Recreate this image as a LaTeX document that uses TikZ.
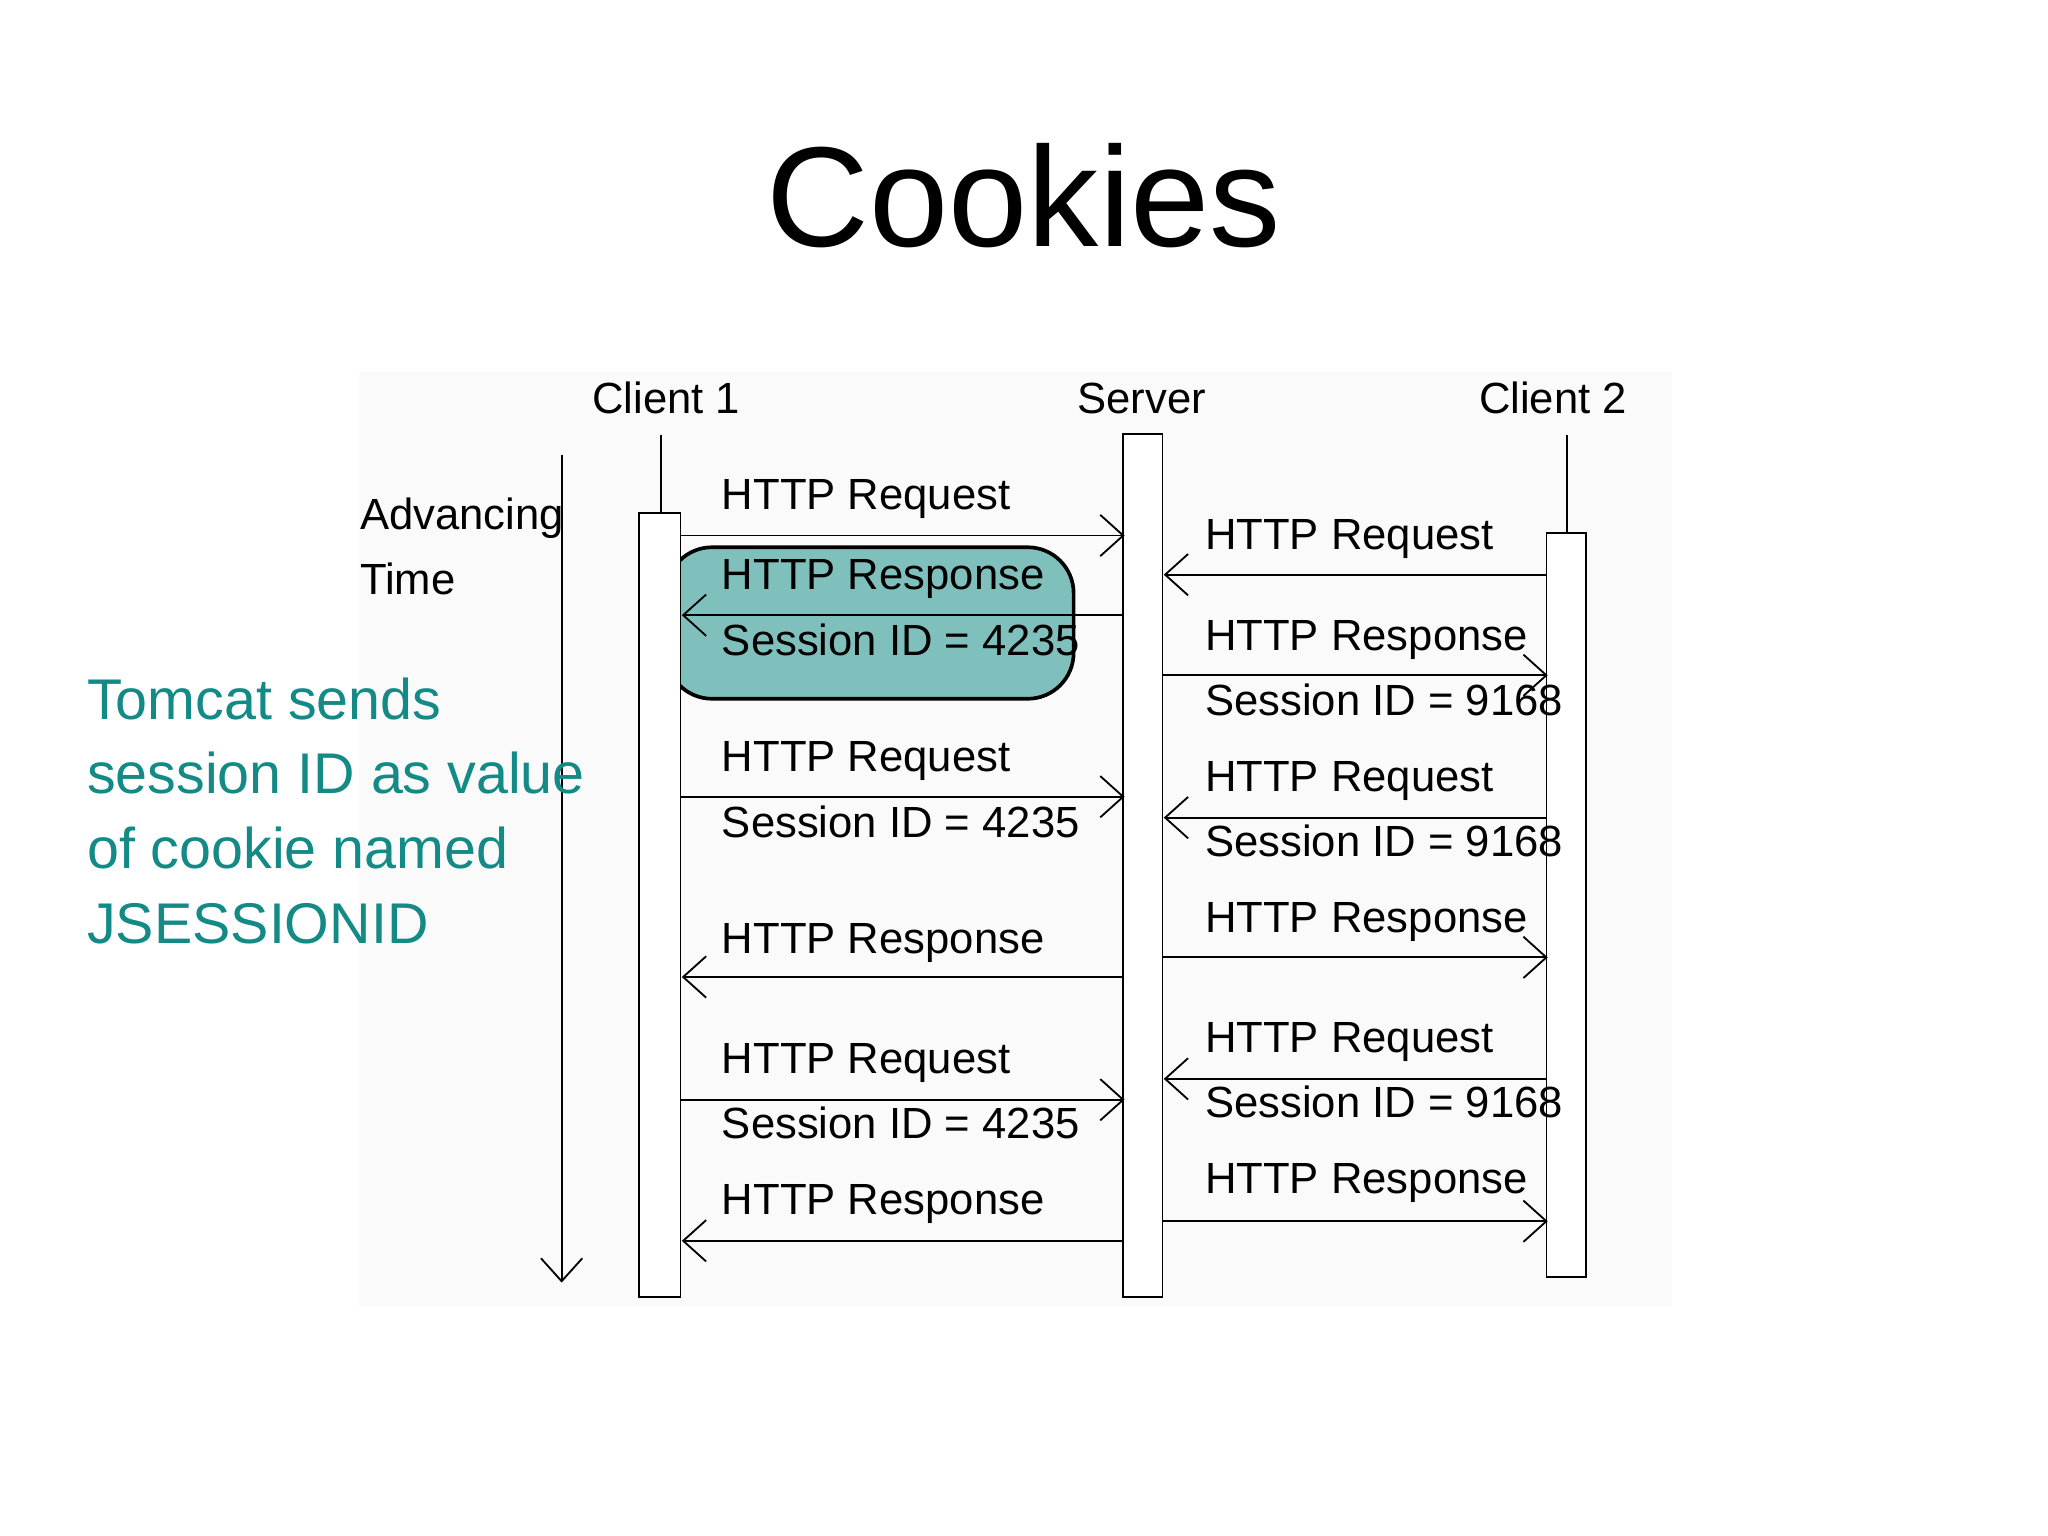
\documentclass[tikz,border=0pt]{standalone}
\usepackage{fontspec}
\setmainfont{Liberation Sans}
\usetikzlibrary{arrows.meta}
\definecolor{slidebg}{RGB}{250,250,250}
\definecolor{tealbox}{RGB}{128,192,188}
\definecolor{tealtext}{RGB}{20,138,134}
\begin{document}
\begin{tikzpicture}[
    x=0.01cm, y=-0.01cm,
    msg/.style={-{Straight Barb[length=5pt,width=9pt]}, thin, black},
    lbl/.style={anchor=west, inner sep=0pt, font=\fontsize{9.5}{11}\selectfont},
    bar/.style={draw, fill=white, thin}
]
\useasboundingbox (0,0) rectangle (1568,1176);
\fill[slidebg] (275,285) rectangle (1280,1000);

% Title
\node[font=\fontsize{31}{36}\selectfont] (title) at (784,150) {Cookies};

% Highlight
\draw[fill=tealbox, rounded corners=10pt, thick] (510,419) rectangle (822,535);

% Lifelines
\node[lbl, anchor=center] (c1) at (510,305) {Client 1};
\node[lbl, anchor=center] (srv) at (874,305) {Server};
\node[lbl, anchor=center] (c2) at (1189,305) {Client 2};
\draw (506,333) -- (506,393);
\draw (1200,333) -- (1200,408);
\draw[bar] (489,393) rectangle (521,993);
\draw[bar] (860,332) rectangle (890,993);
\draw[bar] (1184,408) rectangle (1214,978);
\coordinate (tA) at (430,348);
\coordinate (tB) at (430,982);
\draw[msg] (tA) -- (tB);
\node[lbl] (adv) at (275,397) {Advancing};
\node[lbl] (time) at (275,443) {Time};

% Client 1 <-> Server
\foreach \y/\d in {410/1,471/0,610/1,748/0,842/1,950/0}{
  \ifnum\d=1 \draw[msg] (521,\y) -- (861,\y);
  \else \draw[msg] (860,\y) -- (522,\y); \fi
}
% Server <-> Client 2
\foreach \y/\d in {440/0,517/1,626/0,733/1,826/0,935/1}{
  \ifnum\d=1 \draw[msg] (890,\y) -- (1185,\y);
  \else \draw[msg] (1184,\y) -- (891,\y); \fi
}

% Labels
\foreach \y/\t in {382/HTTP Request,443/HTTP Response,490/Session ID = 4235,583/HTTP Request,629/Session ID = 4235,722/HTTP Response,814/HTTP Request,860/Session ID = 4235,922/HTTP Response}
  \node[lbl] at (552,\y) {\t};
\foreach \y/\t in {413/HTTP Request,490/HTTP Response,536/Session ID = 9168,598/HTTP Request,644/Session ID = 9168,706/HTTP Response,798/HTTP Request,844/Session ID = 9168,906/HTTP Response}
  \node[lbl] at (922,\y) {\t};

% Note
\node[anchor=north west, align=left, text=tealtext, inner sep=0pt,
      font=\fontsize{12.5}{16.3}\selectfont] (note) at (66,518)
  {Tomcat sends\\session ID as value\\of cookie named\\JSESSIONID};
\end{tikzpicture}
\end{document}
